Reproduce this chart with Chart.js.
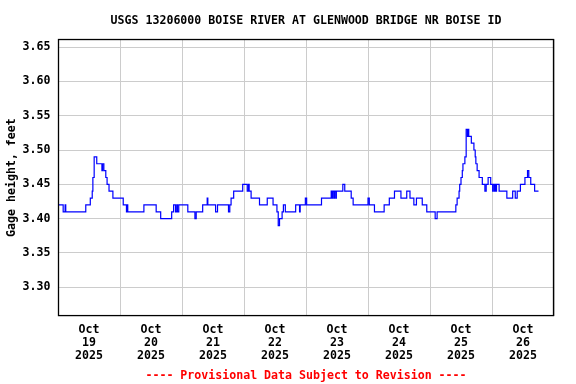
<!DOCTYPE html>
<html>
<head>
<meta charset="utf-8">
<script src="https://cdn.jsdelivr.net/npm/chart.js@4"></script>
<style>
  html, body { margin: 0; padding: 0; background: #ffffff; }
  canvas { display: block; }
</style>
</head>
<body>
<canvas id="gageChart" width="576" height="384"></canvas>
<script>
// Gage height, hours since Oct 19 2025 00:00 -> value it steps to
const hours = [
  0, 2, 2.75, 3, 10.75, 12.5, 13.25, 13.5, 14, 15, 17, 17.25, 17.75, 18.5, 19, 19.75, 21.25,
  25.25, 26.5, 26.75, 27, 33.25, 38, 39.75, 44, 44.75, 45.5, 46, 46.25, 46.75,
  50.25, 53, 53.5, 56, 57.75, 58, 61, 61.75, 66, 66.5, 67, 68, 71.5, 73.25, 73.75, 74, 74.75,
  78, 81, 83.25, 84.75, 85.25, 85.75, 86.75, 87.25, 88, 92, 93.5, 93.75, 95.75, 96.25,
  102, 105.75, 106, 106.25, 106.75, 107, 107.5, 107.75, 110.25, 111, 113.5, 114.25,
  120, 120.5, 122.5, 126.25, 128.25, 130.25, 132.75, 135, 136.25, 137.75, 138.75, 141, 142.75,
  146, 146.75, 154, 154.5, 155.25, 155.5, 156, 156.5, 156.75, 157.5, 158, 158.5, 158.75, 159,
  160, 161, 161.5, 161.75, 162.25, 163, 164.25, 165.25, 165.75, 166.5, 167.5, 168.25, 168.5,
  169, 169.25, 169.5, 169.75, 170.75, 173.75, 176, 177, 177.75, 179, 180.75, 181.75, 182.25,
  183, 184.5, 186
];
const gage = [
  3.42, 3.41, 3.42, 3.41, 3.42, 3.43, 3.44, 3.46, 3.49, 3.48, 3.47, 3.48, 3.47, 3.46, 3.45, 3.44, 3.43,
  3.42, 3.41, 3.42, 3.41, 3.42, 3.41, 3.40, 3.41, 3.42, 3.41, 3.42, 3.41, 3.42,
  3.41, 3.40, 3.41, 3.42, 3.43, 3.42, 3.41, 3.42, 3.41, 3.42, 3.43, 3.44, 3.45, 3.44, 3.45, 3.44, 3.43,
  3.42, 3.43, 3.42, 3.41, 3.39, 3.40, 3.41, 3.42, 3.41, 3.42, 3.41, 3.42, 3.43, 3.42,
  3.43, 3.44, 3.43, 3.44, 3.43, 3.44, 3.43, 3.44, 3.45, 3.44, 3.43, 3.42,
  3.43, 3.42, 3.41, 3.42, 3.43, 3.44, 3.43, 3.44, 3.43, 3.42, 3.43, 3.42, 3.41,
  3.40, 3.41, 3.42, 3.43, 3.44, 3.45, 3.46, 3.47, 3.48, 3.49, 3.53, 3.52, 3.53, 3.52,
  3.51, 3.50, 3.49, 3.48, 3.47, 3.46, 3.45, 3.44, 3.45, 3.46, 3.45, 3.44, 3.45,
  3.44, 3.45, 3.44, 3.45, 3.44, 3.43, 3.44, 3.43, 3.44, 3.45, 3.46, 3.47, 3.46,
  3.45, 3.44, 3.44
];

// Axis labels
const dayLabels = ['19', '20', '21', '22', '23', '24', '25', '26'];
const monthLabel = 'Oct';
const yearLabel = '2025';
const yTicks = [3.30, 3.35, 3.40, 3.45, 3.50, 3.55, 3.60, 3.65];

const monoFont = { family: '"DejaVu Sans Mono", monospace', size: 11.6, weight: 'bold' };

// Black frame round the plot
const frameBox = {
  id: 'frameBox',
  afterDraw(chart) {
    const a = chart.chartArea;
    const ctx = chart.ctx;
    ctx.save();
    ctx.strokeStyle = '#000000';
    ctx.lineWidth = 1.3;
    ctx.strokeRect(a.left + 0.5, a.top + 0.5, a.right - a.left - 1, a.bottom - a.top - 1);
    ctx.restore();
  }
};

let points = hours.map((h, i) => ({ x: h, y: gage[i] }));

let config = {
  type: 'line',
  data: {
    datasets: [{
      data: points,
      borderColor: '#0000ff',
      borderWidth: 1.2,
      pointRadius: 0,
      stepped: true,
      fill: false
    }]
  },
  options: {
    responsive: false,
    animation: false,
    layout: { padding: { left: 0, right: 22, top: 0, bottom: 0 } },
    plugins: {
      legend: { display: false },
      tooltip: { enabled: false },
      title: {
        display: true,
        fullSize: false,
        text: 'USGS 13206000 BOISE RIVER AT GLENWOOD BRIDGE NR BOISE ID',
        color: '#000000',
        font: monoFont,
        padding: { top: 14, bottom: 11.1 }
      },
      subtitle: {
        display: true,
        fullSize: false,
        position: 'bottom',
        text: '---- Provisional Data Subject to Revision ----',
        color: '#ff0000',
        font: monoFont,
        padding: { top: 1, bottom: 1 }
      }
    },
    scales: {
      x: {
        type: 'linear',
        min: 0,
        max: 192,
        afterBuildTicks(scale) {
          let t = [];
          for (let h = 0; h <= 192; h += 12) t.push({ value: h });
          scale.ticks = t;
        },
        afterFit(scale) { scale.height = 52; },
        border: { display: false },
        grid: {
          drawTicks: false,
          lineWidth: 1,
          color: (c) => (c.tick && c.tick.value % 24 === 0) ? '#cccccc' : 'rgba(0,0,0,0)'
        },
        ticks: {
          autoSkip: false,
          maxRotation: 0,
          padding: 7.5,
          color: '#000000',
          font: Object.assign({}, monoFont, { lineHeight: 1.12 }),
          callback: (v) => {
            if (v % 24 !== 12) return '';
            return [monthLabel, dayLabels[Math.floor(v / 24)], yearLabel];
          }
        }
      },
      y: {
        min: 3.2581,
        max: 3.6617,
        afterBuildTicks(scale) {
          scale.ticks = yTicks.map(v => ({ value: v }));
        },
        afterFit(scale) { scale.width = 58; },
        border: { display: false },
        grid: { drawTicks: false, color: '#cccccc', lineWidth: 1 },
        ticks: {
          padding: 7.5,
          color: '#000000',
          font: monoFont,
          callback: (v) => Number(v).toFixed(2)
        },
        title: {
          display: true,
          text: 'Gage height, feet',
          color: '#000000',
          font: monoFont,
          padding: { top: 5, bottom: 0 }
        }
      }
    }
  },
  plugins: [frameBox]
};

let gageChart = new Chart(document.getElementById('gageChart'), config);
</script>
</body>
</html>
